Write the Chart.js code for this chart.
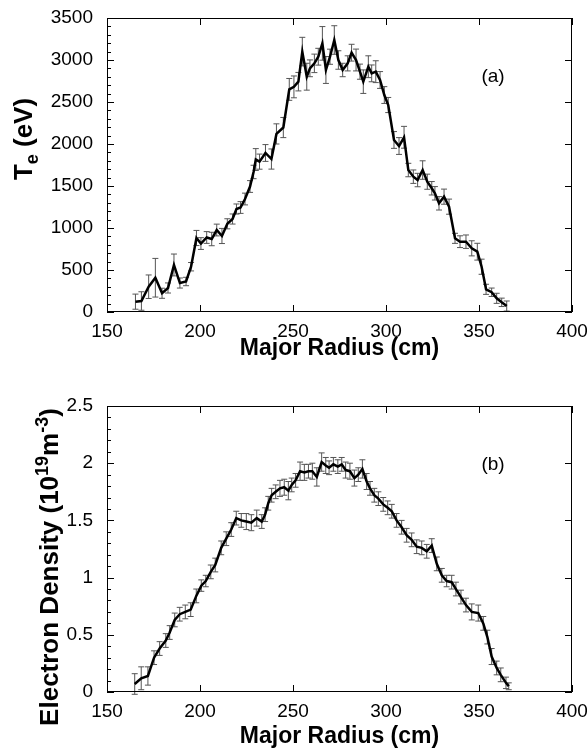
<!DOCTYPE html>
<html>
<head>
<meta charset="utf-8">
<script src="https://cdn.jsdelivr.net/npm/chart.js@4.4.0/dist/chart.umd.min.js"></script>
<style>
html, body { margin: 0; padding: 0; background: #fff; }
#wrap { position: relative; width: 587px; height: 755px; }
#boxA { position: absolute; left: 0; top: 0; }
#boxB { position: absolute; left: 0; top: 375px; }
</style>
</head>
<body>
<div id="wrap">
  <div id="boxA"><canvas id="chartA" width="587" height="375"></canvas></div>
  <div id="boxB"><canvas id="chartB" width="587" height="380"></canvas></div>
</div>
<script>
// ---- data ----
var radiusA = [165.3,168.5,172.4,176.0,179.6,182.8,186.0,189.2,192.5,195.2,198.1,200.5,203.6,206.3,209.0,211.8,214.7,217.5,219.6,221.8,224.2,226.9,228.8,230.0,232.0,235.2,238.4,241.1,244.8,248.0,250.5,252.9,255.0,257.4,259.1,261.5,263.6,265.8,267.7,269.9,272.2,274.4,276.7,279.4,281.5,283.9,286.0,287.8,290.5,292.3,294.5,296.8,299.1,301.2,304.3,307.0,309.7,312.0,314.7,317.0,319.7,322.2,324.6,326.3,328.5,331.2,333.9,337.1,339.8,343.0,346.1,349.1,351.4,353.8,356.8,359.5,362.2,364.9];
var teValues = [123,131,301,408,223,286,560,345,363,539,881,815,887,869,976,905,1050,1107,1226,1244,1345,1494,1667,1815,1790,1893,1821,2120,2196,2650,2680,2742,3100,2801,2901,2960,3039,3198,2881,3039,3238,3000,2881,2960,3087,3000,2861,2742,2920,2841,2861,2762,2583,2464,2048,1976,2080,1690,1611,1571,1690,1551,1473,1413,1294,1373,1254,877,837,837,758,718,539,270,235,163,115,71];
var teErr = [90,110,140,230,60,60,130,60,50,50,90,70,70,80,70,90,60,60,60,70,70,70,80,130,90,100,120,120,120,130,130,110,170,160,100,110,100,200,160,90,170,110,80,90,100,130,90,140,130,100,130,100,100,90,100,100,130,80,80,80,110,90,80,80,80,90,90,60,70,80,90,100,90,60,50,60,50,60];

var radiusB = [164.9,168.4,172.0,175.3,178.3,181.6,183.7,186.4,189.1,192.1,195.0,198.0,200.7,203.1,205.8,208.2,211.4,214.1,216.8,219.5,222.2,224.9,227.6,230.5,233.2,235.0,236.7,238.5,240.7,243.0,245.3,247.5,249.3,251.4,253.8,256.1,258.3,260.4,262.8,265.4,267.6,269.4,271.7,274.1,276.2,278.3,280.6,283.0,285.1,287.3,289.6,291.4,293.7,295.9,298.5,300.9,303.1,305.7,308.4,311.1,313.8,316.5,319.2,321.9,324.6,327.3,330.0,332.6,335.3,337.6,340.3,343.0,346.1,349.6,352.3,354.5,356.8,359.5,361.7,364.5,366.0];
var neValues = [0.07,0.12,0.14,0.30,0.38,0.45,0.52,0.63,0.68,0.70,0.72,0.84,0.93,0.97,1.05,1.11,1.26,1.34,1.42,1.52,1.50,1.49,1.48,1.52,1.49,1.55,1.65,1.72,1.75,1.78,1.79,1.76,1.81,1.85,1.93,1.92,1.93,1.93,1.88,2.01,1.98,1.96,1.99,1.97,1.99,1.94,1.93,1.87,1.90,1.95,1.84,1.78,1.72,1.69,1.64,1.61,1.58,1.50,1.44,1.37,1.33,1.27,1.26,1.23,1.28,1.12,1.02,0.97,0.96,0.90,0.83,0.76,0.70,0.69,0.60,0.48,0.31,0.21,0.15,0.08,0.05];
var neErr = [0.09,0.10,0.08,0.06,0.06,0.06,0.06,0.06,0.06,0.06,0.06,0.06,0.05,0.05,0.06,0.06,0.06,0.06,0.06,0.06,0.06,0.07,0.07,0.07,0.06,0.06,0.06,0.06,0.06,0.07,0.07,0.08,0.06,0.06,0.08,0.07,0.06,0.07,0.08,0.08,0.07,0.06,0.06,0.06,0.06,0.07,0.07,0.07,0.06,0.08,0.07,0.06,0.06,0.06,0.06,0.06,0.06,0.06,0.06,0.06,0.06,0.06,0.06,0.06,0.06,0.06,0.06,0.05,0.06,0.06,0.06,0.06,0.07,0.07,0.06,0.06,0.07,0.06,0.06,0.05,0.03];

var radiusTicks = [150, 200, 250, 300, 350, 400];
var teTicks = [0, 500, 1000, 1500, 2000, 2500, 3000, 3500];
var neTicks = [0, 0.5, 1, 1.5, 2, 2.5];

// ---- helpers ----
function toPoints(xs, ys) {
    return xs.map(function (x, i) { return { x: x, y: ys[i] }; });
}

var tickFont = { family: "'Liberation Sans', Arial, sans-serif", size: 19 };
var titleFont = "bold 23px 'Liberation Sans', Arial, sans-serif";
var yTitleFont = "bold 26px 'Liberation Sans', Arial, sans-serif";
var yTitleSmall = "bold 18px 'Liberation Sans', Arial, sans-serif";

// error bars, drawn under the line
var errorBars = {
    id: 'errorBars',
    beforeDatasetsDraw: function (chart) {
        var errs = chart.options.plugins.errorBars.values;
        var xs = chart.scales.x, ys = chart.scales.y;
        var ctx = chart.ctx;
        ctx.save();
        ctx.strokeStyle = '#555';
        ctx.lineWidth = 1;
        chart.data.datasets[0].data.forEach(function (p, i) {
            var px = xs.getPixelForValue(p.x);
            var top = ys.getPixelForValue(p.y + errs[i]);
            var bot = ys.getPixelForValue(p.y - errs[i]);
            ctx.beginPath();
            ctx.moveTo(px, top); ctx.lineTo(px, bot);
            ctx.moveTo(px - 3, top); ctx.lineTo(px + 3, top);
            ctx.moveTo(px - 3, bot); ctx.lineTo(px + 3, bot);
            ctx.stroke();
        });
        ctx.restore();
    }
};

// box, inward ticks, titles and panel letter
var frame = {
    id: 'frame',
    afterDraw: function (chart) {
        var o = chart.options.plugins.frame;
        var a = chart.chartArea, ctx = chart.ctx;
        var xs = chart.scales.x, ys = chart.scales.y;
        ctx.save();
        ctx.strokeStyle = '#000';
        ctx.lineWidth = 1;
        ctx.strokeRect(a.left + 0.5, a.top + 0.5, a.right - a.left - 1, a.bottom - a.top - 1);
        ctx.beginPath();
        radiusTicks.forEach(function (v) {
            var px = Math.round(xs.getPixelForValue(v)) + 0.5;
            ctx.moveTo(px, a.bottom); ctx.lineTo(px, a.bottom - 7);
            ctx.moveTo(px, a.top); ctx.lineTo(px, a.top + 7);
        });
        for (var v = 0; v <= o.yMax + 1e-9; v += o.minor) {
            var py = Math.round(ys.getPixelForValue(v)) + 0.5;
            var major = Math.abs(v / o.major - Math.round(v / o.major)) < 1e-6;
            ctx.moveTo(a.left, py); ctx.lineTo(a.left + (major ? 7 : 4), py);
            if (major) { ctx.moveTo(a.right, py); ctx.lineTo(a.right - 7, py); }
        }
        ctx.stroke();

        ctx.fillStyle = '#000';
        // x title
        ctx.font = titleFont;
        ctx.textAlign = 'center';
        ctx.textBaseline = 'middle';
        ctx.fillText('Major Radius (cm)', (a.left + a.right) / 2, o.xTitleY);

        // panel letter
        ctx.font = "19px 'Liberation Sans', Arial, sans-serif";
        ctx.fillText(o.letter, o.letterX, o.letterY);

        // rotated y title built from pieces (normal / sub / sup)
        var parts = o.yTitle;
        var widths = parts.map(function (p) {
            ctx.font = p.small ? yTitleSmall : yTitleFont;
            return ctx.measureText(p.t).width;
        });
        var total = widths.reduce(function (s, w) { return s + w; }, 0);
        ctx.translate(o.yTitleX, o.yTitleY);
        ctx.rotate(-Math.PI / 2);
        ctx.textAlign = 'left';
        ctx.textBaseline = 'alphabetic';
        var cx = -total / 2;
        parts.forEach(function (p, i) {
            ctx.font = p.small ? yTitleSmall : yTitleFont;
            ctx.fillText(p.t, cx, p.dy || 0);
            cx += widths[i];
        });
        ctx.restore();
    }
};

function makeChart(id, xsData, ysData, errs, yTicks, opts) {
    return new Chart(document.getElementById(id), {
        type: 'scatter',
        data: {
            datasets: [{
                data: toPoints(xsData, ysData),
                showLine: true,
                borderColor: '#000',
                borderWidth: 2.5,
                pointRadius: 0,
                tension: 0
            }]
        },
        options: {
            responsive: false,
            animation: false,
            layout: { padding: { top: opts.padTop, right: 15, left: 0, bottom: 0 } },
            scales: {
                x: {
                    type: 'linear',
                    min: 150,
                    max: 400,
                    afterBuildTicks: function (s) { s.ticks = radiusTicks.map(function (v) { return { value: v }; }); },
                    ticks: { font: tickFont, color: '#000', padding: 8, maxRotation: 0,
                             callback: function (v) { return String(v); } },
                    grid: { display: false, drawTicks: false },
                    border: { display: false },
                    afterFit: function (s) { s.height = 63; s.paddingLeft = 0; s.paddingRight = 0; }
                },
                y: {
                    min: 0,
                    max: yTicks[yTicks.length - 1],
                    afterBuildTicks: function (s) { s.ticks = yTicks.map(function (v) { return { value: v }; }); },
                    ticks: { font: tickFont, color: '#000', padding: 14,
                             callback: function (v) { return String(v); } },
                    grid: { display: false, drawTicks: false },
                    border: { display: false },
                    afterFit: function (s) { s.width = 107; s.paddingTop = 0; s.paddingBottom = 0; }
                }
            },
            plugins: {
                legend: { display: false },
                tooltip: { enabled: false },
                errorBars: { values: errs },
                frame: opts.frame
            }
        },
        plugins: [errorBars, frame]
    });
}

makeChart('chartA', radiusA, teValues, teErr, teTicks, {
    padTop: 18,
    frame: {
        yMax: 3500, major: 500, minor: 100,
        xTitleY: 349,
        letter: '(a)', letterX: 493, letterY: 77,
        yTitleX: 32, yTitleY: 139,
        yTitle: [{ t: 'T' }, { t: 'e', small: true, dy: 6 }, { t: ' (eV)' }]
    }
});

makeChart('chartB', radiusB, neValues, neErr, neTicks, {
    padTop: 31,
    frame: {
        yMax: 2.5, major: 0.5, minor: 0.1,
        xTitleY: 362,
        letter: '(b)', letterX: 493, letterY: 90,
        yTitleX: 58, yTitleY: 192,
        yTitle: [{ t: 'Electron Density (10' }, { t: '19', small: true, dy: -10 }, { t: 'm' }, { t: '-3', small: true, dy: -10 }, { t: ')' }]
    }
});
</script>
</body>
</html>
